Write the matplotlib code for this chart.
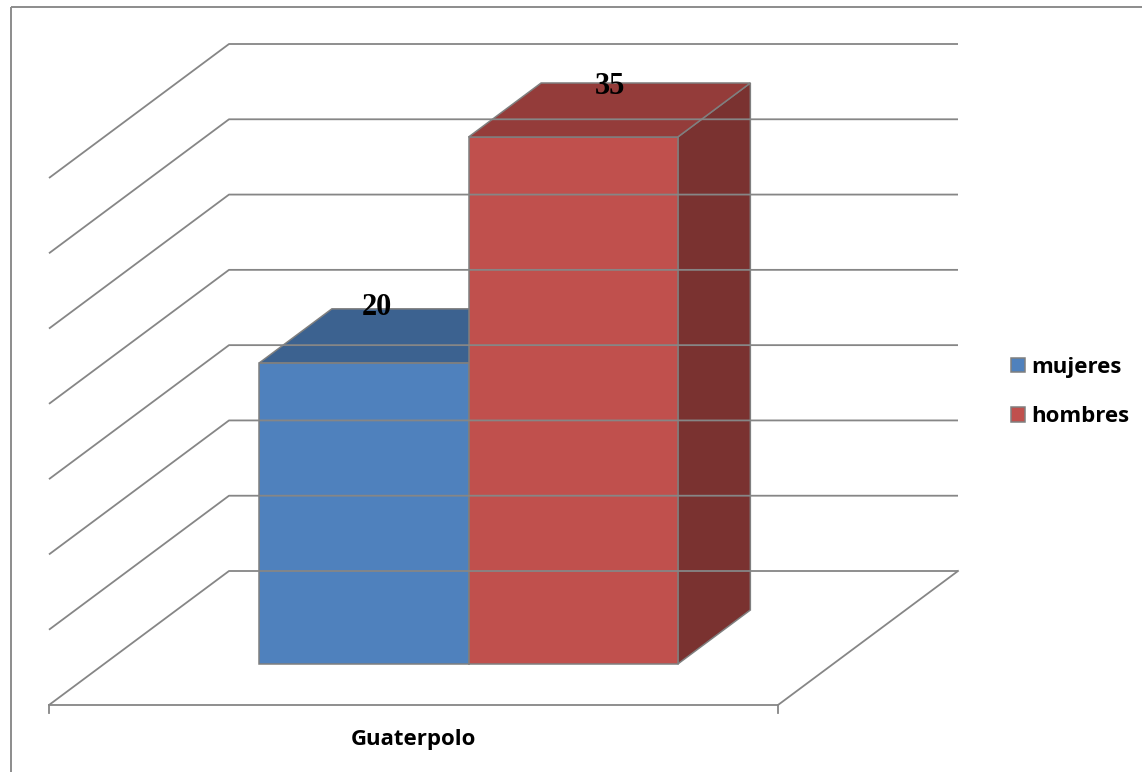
import matplotlib
matplotlib.use('Agg')
import matplotlib.pyplot as plt
from matplotlib.patches import Polygon, Rectangle, Patch

# Chart data
categories = ['Guaterpolo']
series_names = ['mujeres', 'hombres']
values = [20, 35]
value_ticks = [0, 5, 10, 15, 20, 25, 30, 35]

# Colours (front, top, side) per series
front_colors = ['#4F81BD', '#C0504D']
top_colors = ['#3C6290', '#943C3A']
side_colors = ['#345580', '#7A3230']
grid_color = '#868686'
edge_color = '#7F7F7F'

# Oblique projection of the 3D plot box into pixel space
origin = (49, 705)          # front-left corner of the floor
width_px = 729              # width of the floor front edge
depth_vec = (180, -134)     # shift from front to back wall
vmax = value_ticks[-1]
height_px = 527             # back wall height for vmax


def proj(x, z, v):
    px = origin[0] + width_px * x + depth_vec[0] * z
    py = origin[1] + depth_vec[1] * z - height_px * v / vmax
    return px, py


fig = plt.figure(figsize=(11.42, 7.72), dpi=100)
ax = fig.add_axes([0, 0, 1, 1])
ax.set_xlim(0, 1142)
ax.set_ylim(772, 0)
ax.axis('off')

# Outer chart border
ax.add_patch(Rectangle((11, 7), 1200, 900, fill=False, edgecolor='#8C8C8C', linewidth=1.4))

# Gridlines on left and back walls
for v in value_ticks:
    pts = [proj(0, 0, v), proj(0, 1, v), proj(1, 1, v)]
    ax.plot([p[0] for p in pts], [p[1] for p in pts], color=grid_color, linewidth=1.3,
            solid_capstyle='butt')

# Floor front and right edges
pts = [proj(0, 0, 0), proj(1, 0, 0), proj(1, 1, 0)]
ax.plot([p[0] for p in pts], [p[1] for p in pts], color=grid_color, linewidth=1.3)

# Category tick marks
for x in [0, 1]:
    px, py = proj(x, 0, 0)
    ax.plot([px, px], [py, py + 8], color=grid_color, linewidth=1.3)

# Category label
px, py = proj(0.5, 0, 0)
ax.text(px, 740, categories[0], ha='center', va='center', fontsize=16,
        fontweight='bold', family='Open Sans')

# Bars
gap = 0.213
bar_w = (1 - 2 * gap) / len(values)
z0, z1 = 0.306, 0.709
label_offsets = [(13, -55), (37, -50)]

for i, v in enumerate(values):
    x0 = gap + i * bar_w
    x1 = x0 + bar_w
    front = [proj(x0, z0, 0), proj(x1, z0, 0), proj(x1, z0, v), proj(x0, z0, v)]
    top = [proj(x0, z0, v), proj(x1, z0, v), proj(x1, z1, v), proj(x0, z1, v)]
    side = [proj(x1, z0, 0), proj(x1, z1, 0), proj(x1, z1, v), proj(x1, z0, v)]
    for poly, col in [(side, side_colors[i]), (front, front_colors[i]), (top, top_colors[i])]:
        ax.add_patch(Polygon(poly, closed=True, facecolor=col, edgecolor=edge_color,
                             linewidth=1.1, joinstyle='miter'))
    cx, cy = proj((x0 + x1) / 2, z0, v)
    ax.text(cx + label_offsets[i][0], cy + label_offsets[i][1], str(v), ha='center',
            va='center', fontsize=22, fontweight='bold', family='Liberation Serif')

# Legend
handles = [Patch(facecolor=front_colors[i], edgecolor=edge_color, linewidth=1.1,
                 label=series_names[i]) for i in range(len(series_names))]
fig.legend(handles=handles, loc='center left', bbox_to_anchor=(1011 / 1142, 1 - 392 / 772),
           frameon=False, prop={'family': 'Open Sans', 'weight': 'bold', 'size': 16},
           handlelength=0.65, handleheight=0.65, handletextpad=0.25, labelspacing=1.27,
           borderpad=0, borderaxespad=0)

fig.savefig('out.png', dpi=100)
